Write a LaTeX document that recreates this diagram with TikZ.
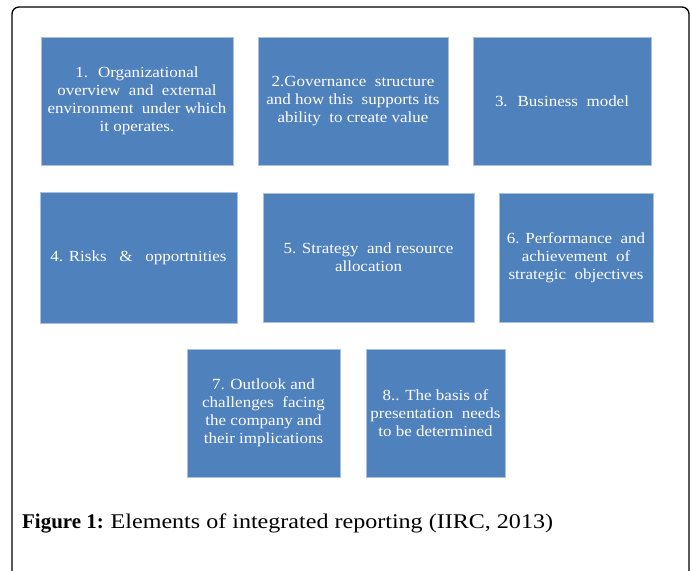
\documentclass[tikz,border=0pt]{standalone}
\usepackage{fontspec}
\setmainfont{Liberation Serif}
\newfontfamily\elemfont[FakeStretch=1.1]{Liberation Serif}
\newfontfamily\capfont[FakeStretch=1.15]{Liberation Serif}
\definecolor{boxblue}{HTML}{4F81BD}
\definecolor{boxedge}{HTML}{A9C1DF}
\tikzset{
	elem/.style={fill=boxblue, draw=boxedge, line width=0.8bp, text=white, align=center, inner sep=0pt,
		font=\elemfont\fontsize{15.5}{18}\selectfont},
}
\begin{document}
\begin{tikzpicture}[x=1bp,y=-1bp,line cap=butt,line join=miter]
	\useasboundingbox (0,0) rectangle (691,571);
	\draw[line width=1.3bp, rounded corners=7bp] (12,575) -- (12,7) -- (689,7) -- (689,575);
	
	% first row
	\node[elem, minimum width=192bp, minimum height=128bp] (org) at (137,101) {1.~ Organizational\\overview~ and~ external\\environment~ under which\\it operates.};
	\node[elem, minimum width=190bp, minimum height=128bp] (gov) at (353,101) {2.Governance~ structure\\and how this~ supports its\\ability~ to create value};
	\node[elem, minimum width=178bp, minimum height=128bp] (bus) at (562,101) {3.~ Business~ model};
	% second row
	\node[elem, minimum width=197bp, minimum height=131bp] (risk) at (138.5,257.5) {4. Risks~~ \&~~ opportnities};
	\node[elem, minimum width=211bp, minimum height=129bp] (strat) at (368.5,257.5) {5. Strategy~ and resource\\allocation};
	\node[elem, minimum width=154bp, minimum height=129bp] (perf) at (576,257.5) {6. Performance~ and\\achievement~ of\\strategic~ objectives};
	% third row
	\node[elem, minimum width=153bp, minimum height=128bp] (out) at (263.5,413) {7. Outlook and\\challenges~ facing\\the company and\\their implications};
	\node[elem, minimum width=139bp, minimum height=128bp] (basis) at (435.5,413) {8.. The basis of\\presentation~ needs\\to be determined};
	
	\node[anchor=west, inner sep=0pt, font=\fontsize{21}{24}\selectfont] (cap) at (22,523) {\textbf{Figure 1:} {\capfont Elements of integrated reporting (IIRC, 2013)}};
	
\end{tikzpicture}
\end{document}
